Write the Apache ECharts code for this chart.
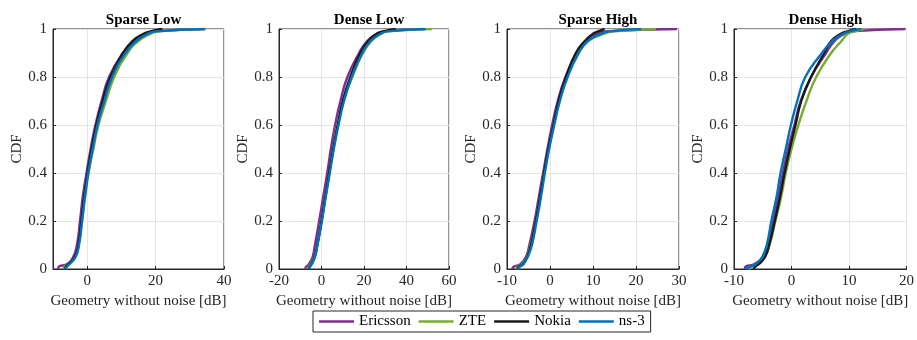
<!DOCTYPE html>
<html>
<head>
<meta charset="utf-8">
<script src="https://cdn.jsdelivr.net/npm/echarts@6/dist/echarts.min.js"></script>
<style>
  html, body { margin: 0; padding: 0; background: #fff; }
  #main { width: 917px; height: 340px; }
</style>
</head>
<body>
<div id="main"></div>
<script>
// CDF levels shared by every curve
var cdfLevels = [0, 0.01, 0.02, 0.05, 0.1, 0.2, 0.3, 0.4, 0.5, 0.6, 0.7, 0.8, 0.9, 0.95, 0.98, 0.99, 1];

var seriesNames = ['Ericsson', 'ZTE', 'Nokia', 'ns-3'];
var panelTitles = ['Sparse Low', 'Dense Low', 'Sparse High', 'Dense High'];

// x value [dB] reached at each cdf level, per panel and vendor
var sparseLowEricsson = [-8.5, -8.3, -6.0, -4.1, -3.0, -2.1, -1.3, -0.2, 1.0, 2.4, 4.2, 6.4, 10.4, 13.6, 17.0, 19.5, 34.5];
var sparseLowZTE      = [-7.0, -6.6, -5.6, -3.5, -2.5, -1.5, -0.6, 0.4, 1.8, 3.3, 5.5, 7.9, 11.8, 15.0, 18.5, 21.0, 34.0];
var sparseLowNokia    = [-6.5, -6.2, -5.5, -3.6, -2.6, -1.7, -0.9, 0.1, 1.3, 2.7, 4.5, 6.8, 10.5, 13.3, 16.5, 18.5, 22.0];
var sparseLowNs3      = [-6.5, -5.9, -5.2, -3.4, -2.4, -1.5, -0.7, 0.3, 1.6, 3.0, 5.0, 7.3, 11.2, 14.4, 17.7, 20.0, 34.5];

var denseLowEricsson = [-7.7, -7.2, -6.0, -4.2, -3.1, -1.1, 0.8, 2.7, 4.4, 6.4, 8.9, 12.2, 17.7, 21.5, 26.0, 29.0, 48.0];
var denseLowZTE      = [-6.5, -6.0, -5.2, -3.3, -2.0, 0.0, 1.8, 3.7, 5.6, 7.8, 10.4, 14.5, 19.5, 23.5, 28.0, 31.0, 52.0];
var denseLowNokia    = [-6.0, -5.5, -4.8, -3.2, -2.0, 0.0, 1.8, 3.6, 5.5, 7.6, 10.0, 13.6, 18.2, 22.0, 26.0, 29.0, 35.0];
var denseLowNs3      = [-5.8, -5.4, -4.6, -3.1, -1.9, 0.2, 2.0, 3.9, 5.8, 8.0, 10.6, 14.2, 19.2, 23.1, 27.8, 31.0, 49.0];

var sparseHighEricsson = [-8.8, -8.4, -6.9, -5.6, -4.8, -3.6, -2.6, -1.6, -0.6, 0.5, 1.8, 3.6, 6.2, 8.3, 11.0, 13.0, 29.5];
var sparseHighZTE      = [-7.9, -7.4, -6.5, -5.4, -4.5, -3.3, -2.3, -1.4, -0.4, 0.8, 2.1, 3.9, 6.6, 8.9, 12.5, 15.0, 24.6];
var sparseHighNokia    = [-7.6, -7.2, -6.3, -5.3, -4.4, -3.3, -2.3, -1.4, -0.4, 0.8, 2.0, 3.7, 6.0, 8.1, 10.0, 11.2, 12.7];
var sparseHighNs3      = [-7.5, -7.0, -6.2, -5.2, -4.2, -3.1, -2.1, -1.2, -0.2, 1.0, 2.3, 4.1, 6.7, 8.8, 11.9, 13.8, 21.2];

var denseHighEricsson = [-8.1, -8.0, -6.5, -4.9, -4.1, -3.2, -2.3, -1.5, -0.6, 0.5, 1.6, 3.4, 6.0, 7.5, 9.2, 10.3, 19.8];
var denseHighZTE      = [-7.5, -7.0, -6.1, -4.7, -3.8, -2.8, -1.8, -1.0, 0.0, 1.2, 2.6, 4.3, 6.9, 8.7, 9.8, 11.0, 12.5];
var denseHighNokia    = [-6.6, -6.3, -5.7, -4.6, -3.9, -2.9, -2.0, -1.2, -0.3, 0.7, 1.7, 3.4, 5.7, 6.9, 8.6, 9.7, 11.3];
var denseHighNs3      = [-8.0, -7.2, -6.2, -5.1, -4.3, -3.5, -2.6, -1.9, -1.0, -0.1, 1.0, 2.4, 5.3, 7.1, 9.0, 10.1, 12.1];

// x axis ranges and tick labels per panel
var xMins = [-10, -20, -10, -10];
var xMaxs = [40, 60, 30, 20];
var xTicks = [[0, 20, 40], [-20, 0, 20, 40, 60], [-10, 0, 10, 20, 30], [-10, 0, 10, 20]];

var panelData = [
    [sparseLowEricsson, sparseLowZTE, sparseLowNokia, sparseLowNs3],
    [denseLowEricsson, denseLowZTE, denseLowNokia, denseLowNs3],
    [sparseHighEricsson, sparseHighZTE, sparseHighNokia, sparseHighNs3],
    [denseHighEricsson, denseHighZTE, denseHighNokia, denseHighNs3]
];

var colors = ['#7E2F8E', '#77AC30', '#1a1a1a', '#0072BD'];
var font = '"Liberation Serif", "DejaVu Serif", serif';
var textColor = '#262626';

var gridPos = [
    {left: 53, width: 171},
    {left: 279, width: 170},
    {left: 507, width: 172},
    {left: 734, width: 173}
];

var chart = echarts.init(document.getElementById('main'));

var grids = [], xAxes = [], yAxes = [], titles = [], series = [];

gridPos.forEach(function (g, p) {
    grids.push({
        left: g.left, width: g.width, top: 29, height: 240,
        show: true, borderColor: textColor, borderWidth: 1, backgroundColor: '#fff'
    });
    titles.push({
        text: panelTitles[p],
        left: g.left + g.width / 2,
        top: 8,
        textAlign: 'center',
        textStyle: {fontFamily: font, fontSize: 15, fontWeight: 'bold', color: '#000'}
    });
    xAxes.push({
        type: 'value',
        gridIndex: p,
        min: xMins[p],
        max: xMaxs[p],
        name: 'Geometry without noise [dB]',
        nameLocation: 'middle',
        nameGap: 24,
        nameTextStyle: {fontFamily: font, fontSize: 15, color: textColor},
        axisLine: {show: true, onZero: false, lineStyle: {color: textColor}},
        axisTick: {show: true, inside: true, length: 3, customValues: xTicks[p], lineStyle: {color: textColor}},
        axisLabel: {fontFamily: font, fontSize: 15, color: textColor, margin: 5, customValues: xTicks[p]},
        splitLine: {show: true, lineStyle: {color: '#e5e5e5', width: 1}}
    });
    yAxes.push({
        type: 'value',
        gridIndex: p,
        min: 0,
        max: 1,
        interval: 0.2,
        name: 'CDF',
        nameLocation: 'middle',
        nameGap: 28,
        nameTextStyle: {fontFamily: font, fontSize: 15, color: textColor},
        axisLine: {show: true, onZero: false, lineStyle: {color: textColor}},
        axisTick: {show: true, inside: true, length: 3, lineStyle: {color: textColor}},
        axisLabel: {fontFamily: font, fontSize: 15, color: textColor, margin: 6},
        splitLine: {show: true, lineStyle: {color: '#e5e5e5', width: 1}}
    });
    panelData[p].forEach(function (xs, s) {
        series.push({
            name: seriesNames[s],
            type: 'line',
            xAxisIndex: p,
            yAxisIndex: p,
            showSymbol: false,
            symbol: 'none',
            smooth: 0.5,
            color: colors[s],
            lineStyle: {width: 2.4, color: colors[s]},
            data: xs.map(function (x, i) { return [x, cdfLevels[i]]; })
        });
    });
});

var option = {
    animation: false,
    backgroundColor: '#fff',
    title: titles,
    grid: grids,
    xAxis: xAxes,
    yAxis: yAxes,
    legend: {
        data: seriesNames,
        icon: 'rect',
        left: 313,
        top: 311,
        itemWidth: 35,
        itemHeight: 2.5,
        itemGap: 8,
        padding: [3, 6, 3, 6],
        borderColor: textColor,
        borderWidth: 1,
        textStyle: {fontFamily: font, fontSize: 15, color: '#000'}
    },
    series: series
};

chart.setOption(option);
</script>
</body>
</html>
